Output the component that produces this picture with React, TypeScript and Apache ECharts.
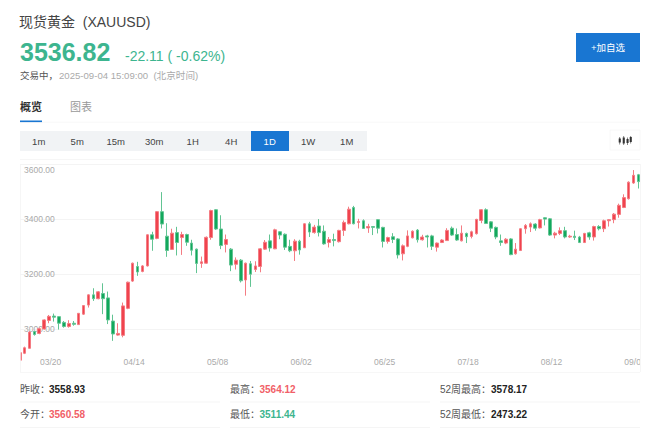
import React, { useEffect, useRef } from "react";
import * as echarts from "echarts";

const FONT = '"Liberation Sans", "Noto Sans CJK SC", sans-serif';
const RED = "#f0434e";
const GREEN = "#12a85c";
const RED_EDGE = "#f47c83";
const GREEN_EDGE = "#62c493";
const PRICE_GREEN = "#3db58f";
const STAT_RED = "#f15f68";
const BLUE = "#1976d2";

const opens = [2888,2913,2931,2992,2985,3001,3032,3048,3046,3025,3010,3022,3017,3055,3088,3125,3111,3130,3114,3030,2979,2978,3076,3175,3228,3210,3230,3343,3330,3427,3338,3290,3351,3333,3344,3313,3291,3239,3240,3333,3434,3364,3308,3291,3236,3251,3179,3238,3217,3228,3291,3321,3292,3354,3345,3301,3285,3320,3296,3383,3351,3375,3356,3315,3326,3318,3359,3383,3442,3388,3394,3368,3373,3398,3370,3319,3336,3328,3274,3301,3332,3360,3325,3339,3339,3298,3315,3322,3367,3344,3321,3348,3337,3347,3395,3434,3390,3370,3321,3313,3328,3274,3286,3365,3371,3382,3368,3405,3401,3342,3348,3358,3335,3338,3335,3315,3350,3335,3373,3365,3394,3398,3417,3442,3474,3531,3561];
const closes = [2915,2933,2990,2981,3002,3034,3047,3044,3022,3010,3021,3018,3058,3086,3125,3111,3136,3111,3034,2983,2985,3085,3171,3240,3208,3230,3343,3327,3427,3382,3286,3349,3315,3344,3316,3287,3239,3245,3334,3431,3364,3304,3326,3233,3251,3176,3240,3200,3230,3292,3316,3295,3361,3342,3298,3285,3320,3288,3383,3353,3371,3351,3310,3326,3322,3359,3388,3436,3383,3391,3366,3373,3370,3367,3319,3333,3326,3270,3303,3339,3356,3325,3335,3335,3301,3313,3324,3359,3342,3324,3349,3336,3354,3399,3434,3384,3367,3335,3315,3327,3271,3291,3365,3377,3383,3367,3398,3400,3342,3349,3358,3335,3338,3333,3315,3348,3335,3373,3365,3394,3398,3418,3450,3478,3534,3559,3536];
const lows = [2885,2910,2930,2977,2982,2999,3022,3028,2999,3006,3006,3013,3016,3052,3079,3103,3109,3055,3019,2958,2977,2971,3073,3172,3194,3207,3228,3285,3327,3366,3263,3288,3268,3270,3303,3268,3204,3223,3238,3325,3361,3291,3279,3211,3217,3170,3122,3154,3208,3207,3288,3282,3291,3327,3288,3280,3248,3271,3295,3335,3347,3337,3307,3297,3301,3315,3339,3381,3381,3366,3364,3350,3342,3348,3297,3311,3313,3257,3250,3298,3330,3315,3322,3297,3288,3282,3313,3321,3339,3321,3319,3313,3330,3344,3385,3382,3353,3327,3303,3309,3269,3271,3284,3347,3353,3358,3366,3377,3339,3330,3342,3330,3332,3324,3313,3313,3325,3322,3359,3353,3373,3385,3405,3440,3471,3528,3511];
const highs = [2918,2937,2993,2994,3006,3036,3052,3057,3048,3030,3033,3030,3059,3088,3127,3149,3139,3167,3137,3053,3022,3097,3173,3242,3245,3233,3345,3354,3429,3498,3385,3365,3372,3354,3347,3325,3293,3264,3337,3434,3436,3414,3344,3295,3261,3255,3242,3248,3247,3295,3324,3344,3365,3356,3348,3325,3327,3325,3385,3390,3379,3400,3377,3335,3347,3361,3395,3445,3448,3401,3399,3383,3374,3400,3372,3336,3349,3331,3308,3359,3359,3364,3343,3343,3343,3315,3327,3367,3373,3366,3377,3351,3358,3401,3436,3439,3393,3373,3344,3331,3331,3313,3367,3382,3388,3385,3401,3407,3404,3354,3370,3372,3343,3358,3339,3350,3354,3376,3378,3398,3400,3422,3456,3490,3537,3578,3564];

const tickLabels = ["03/20", "04/14", "05/08", "06/02", "06/25", "07/18", "08/12", "09/03"];
const tickIndexes = [6, 23, 40, 57, 74, 91, 108, 125];
const yTicks = [3000, 3200, 3400, 3600];
const periods = ["1m", "5m", "15m", "30m", "1H", "4H", "1D", "1W", "1M"];
const statLabels = ["昨收：", "最高：", "52周最高：", "今开：", "最低：", "52周最低："];
const statValues = ["3558.93", "3564.12", "3578.17", "3560.58", "3511.44", "2473.22"];
const statColors = ["#222", STAT_RED, "#222", STAT_RED, PRICE_GREEN, "#222"];

const categories = opens.map((_, i) => {
  const t = tickIndexes.indexOf(i);
  return t >= 0 ? tickLabels[t] : `#${i}`;
});
const candles = opens.map((o, i) => [o, closes[i], lows[i], highs[i]]);

function txt(x: number, y: number, text: string, fontSize: number, fill: string, extra: any = {}) {
  return {
    type: "text",
    x,
    y,
    z: 20,
    style: { text, fontSize, fill, fontFamily: FONT, verticalAlign: "middle", align: "left", ...extra },
  };
}
function box(x: number, y: number, width: number, height: number, fill: string, style: any = {}, z = 15) {
  return { type: "rect", shape: { x, y, width, height }, z, style: { fill, ...style } };
}

function buildGraphics() {
  const g: any[] = [
    // masks that trim the plot to its frame
    box(0, 160, 20, 215, "#fff", {}, 12),
    box(640, 160, 20, 215, "#fff", {}, 12),
    // plot frame
    box(20, 164, 0.8, 208, "#f4f4f4", {}, 13),
    box(640, 164, 0.8, 208, "#f4f4f4", {}, 13),
    box(20, 372, 620, 0.8, "#f4f4f4", {}, 13),
    // header
    txt(19, 22, "现货黄金  (XAUUSD)", 14, "#444"),
    txt(20, 52, "3536.82", 25, PRICE_GREEN, { fontWeight: "bold" }),
    txt(125, 56, "-22.11 ( -0.62%)", 14, PRICE_GREEN),
    txt(20, 75, "交易中，", 9.5, "#555"),
    txt(59, 75, "2025-09-04 15:09:00  (北京时间)", 9.6, "#aaa"),
    // add button
    box(576, 33, 64, 29, BLUE),
    txt(608, 47.5, "+加自选", 9.5, "#fff", { align: "center" }),
    // tabs
    txt(20, 107, "概览", 11, "#333", { fontWeight: "bold" }),
    txt(70, 107, "图表", 11, "#999"),
    box(20, 121.7, 620, 0.8, "#f6f6f6"),
    box(20, 120.5, 22, 1.6, BLUE, {}, 16),
    // period selector
    box(20, 131, 347, 20, "#f1f3f5"),
    box(251, 131, 38, 20, BLUE, {}, 16),
    box(20, 159, 620, 0.8, "#f3f3f3"),
    // chart type icon
    box(610, 130, 30, 20, "#fff", { stroke: "#f6f6f6", lineWidth: 0.8 }),
  ];
  // small candlestick glyph on the chart-type button
  [
    [619.4, 137, 144.5, 138.5, 4],
    [623.4, 136, 145, 137.5, 6],
    [627.2, 137.5, 145, 139, 4],
    [630.4, 136, 143.5, 137, 5],
  ].forEach(([x, t, b, bt, bh]) => {
    g.push(box(x, t, 0.7, b - t, "#555", {}, 17));
    g.push(box(x - 0.7, bt, 2.1, bh, "#333", {}, 17));
  });
  periods.forEach((p, i) => {
    g.push(txt(38.7 + i * 38.5, 141, p, 9.5, i === 6 ? "#fff" : "#444", { align: "center" }));
  });
  const colX = [20, 230, 440];
  const valX = [49, 259.5, 491];
  statLabels.forEach((label, i) => {
    const col = i % 3;
    const y = i < 3 ? 389 : 414.5;
    g.push(txt(colX[col], y, label, 10, "#555"));
    g.push(txt(valX[col], y, statValues[i], 10, statColors[i], { fontWeight: "bold" }));
    g.push(box(colX[col], y + 12.6, 200, 0.8, "#f5f5f5"));
  });
  return g;
}

export default function App() {
  const ref = useRef<HTMLDivElement>(null);
  useEffect(() => {
    document.body.style.margin = "0";
    const chart = echarts.init(ref.current!, undefined, { renderer: "svg" });
    chart.setOption({
      animation: false,
      backgroundColor: "#fff",
      textStyle: { fontFamily: FONT },
      grid: { left: 17.25, top: 164, width: 623.6, height: 208 },
      xAxis: {
        type: "category",
        data: categories,
        boundaryGap: true,
        axisLine: { show: false },
        axisTick: { show: false },
        splitLine: { show: false },
        axisLabel: {
          inside: true,
          margin: 5.5,
          fontSize: 8.5,
          color: "#aaa",
          fontFamily: FONT,
          padding: [0, 0, 0, 3],
          interval: (i: number) => tickIndexes.includes(i),
        },
      },
      yAxis: {
        type: "value",
        min: 2845,
        max: 3600,
        axisLine: { show: false },
        axisTick: { show: false, customValues: yTicks },
        splitLine: { show: true, lineStyle: { color: "#f4f4f4", width: 1 } },
        axisLabel: {
          inside: true,
          margin: 6.75,
          fontSize: 8.5,
          lineHeight: 12,
          color: "#aaa",
          fontFamily: FONT,
          customValues: yTicks,
          formatter: (v: number) => v.toFixed(2),
          verticalAlignMaxLabel: "top",
        },
      },
      graphic: buildGraphics(),
      series: [
        {
          type: "candlestick",
          data: candles,
          barWidth: 3.2,
          itemStyle: {
            color: RED,
            color0: GREEN,
            borderColor: RED_EDGE,
            borderColor0: GREEN_EDGE,
            borderWidth: 1,
          },
        },
      ],
    });
    return () => chart.dispose();
  }, []);
  return <div ref={ref} style={{ width: 660, height: 429 }} />;
}
